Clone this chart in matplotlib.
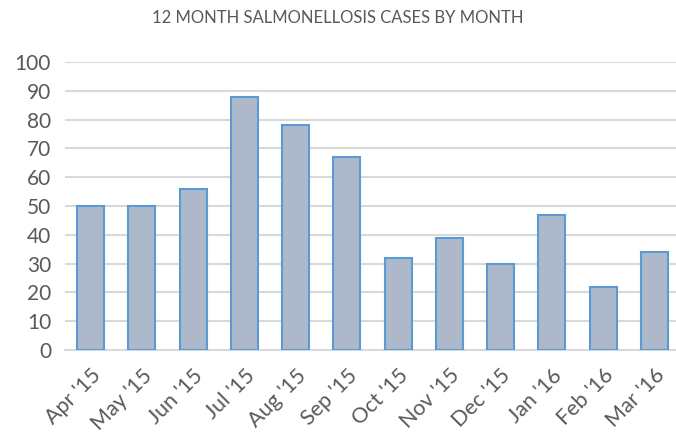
import matplotlib
matplotlib.use('Agg')
import matplotlib.pyplot as plt

# data
months = ["Apr '15", "May '15", "Jun '15", "Jul '15", "Aug '15", "Sep '15",
          "Oct '15", "Nov '15", "Dec '15", "Jan '16", "Feb '16", "Mar '16"]
cases = [50, 50, 56, 88, 78, 67, 32, 39, 30, 47, 22, 34]
yticks = list(range(0, 101, 10))

plt.rcParams['font.family'] = ['Lato', 'DejaVu Sans']

fig = plt.figure(figsize=(6.76, 4.36), dpi=100)
# plot area runs a little past the right edge, like the source
ax = fig.add_axes([65 / 676, 1 - 350 / 436, 615 / 676, 288 / 436])

x = range(len(months))
ax.bar(x, cases, width=0.53, color='#ADB9CA', edgecolor='#5B9BD5',
       linewidth=1.5, zorder=3)

ax.set_xlim(-0.5, 11.5)
ax.set_ylim(0, 100)
ax.set_yticks(yticks)
ax.set_xticks(list(x))
ax.set_xticklabels(months, rotation=45, ha='right', rotation_mode='anchor',
                   fontsize=15.5)

ax.grid(axis='y', color='#D9D9D9', linewidth=1.5, zorder=0)
for s in ['top', 'right', 'left']:
    ax.spines[s].set_visible(False)
ax.spines['bottom'].set_color('#D9D9D9')
ax.spines['bottom'].set_linewidth(1.5)
ax.tick_params(axis='both', length=0, colors='#595959')
ax.tick_params(axis='y', labelsize=15, pad=10)
ax.tick_params(axis='x', pad=11)

fig.text(0.5, 1 - 18 / 436, '12 MONTH SALMONELLOSIS CASES BY MONTH',
         ha='center', va='center', fontsize=12, color='#595959')

fig.savefig('out.png', dpi=100)
